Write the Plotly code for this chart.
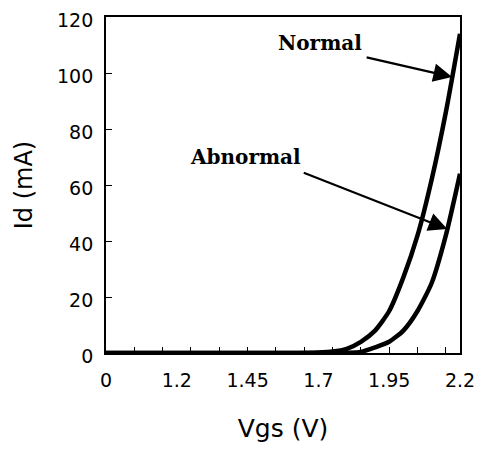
import plotly.graph_objects as go

# Data
vgs = [0.95, 1.2, 1.45, 1.6, 1.7, 1.75, 1.8, 1.85, 1.9, 1.95, 2.0, 2.05, 2.1, 2.15, 2.2]
id_normal = [0, 0, 0, 0, 0.2, 0.5, 1.5, 4, 8, 15, 27, 42, 62, 86, 114]
id_abnormal = [0, 0, 0, 0, 0, 0, 0.1, 0.4, 2, 4, 8, 15, 25, 42, 64]

x_tickvals = [0.95, 1.2, 1.45, 1.7, 1.95, 2.2]
x_ticktext = ["0", "1.2", "1.45", "1.7", "1.95", "2.2"]
y_tickvals = [0, 20, 40, 60, 80, 100, 120]

fig = go.Figure()
fig.add_trace(go.Scatter(x=vgs, y=id_normal, mode="lines", name="Normal",
                         line=dict(color="black", width=4.5, shape="spline", smoothing=0.6)))
fig.add_trace(go.Scatter(x=vgs, y=id_abnormal, mode="lines", name="Abnormal",
                         line=dict(color="black", width=4.5, shape="spline", smoothing=0.6)))
# invisible trace to carry the tick-mark axis
fig.add_trace(go.Scatter(x=[vgs[0]], y=[0], xaxis="x2", mode="markers",
                         marker=dict(opacity=0), showlegend=False, hoverinfo="skip"))

tick_font = dict(family="DejaVu Sans", size=19, color="black")

fig.update_layout(
    width=476, height=444,
    margin=dict(l=98, r=24, t=9, b=99, autoexpand=False),
    paper_bgcolor="white", plot_bgcolor="white",
    showlegend=False,
    xaxis=dict(range=[0.95, 2.2], tickmode="array", tickvals=x_tickvals, ticktext=x_ticktext,
               ticks="", showgrid=False, zeroline=False, automargin=False,
               showline=True, linecolor="black", linewidth=1.8, mirror=True,
               tickfont=tick_font, ticklabelstandoff=9, ticklabeloverflow="allow",
               title=dict(text="Vgs (V)", font=dict(family="DejaVu Sans", size=25, color="black"),
                          standoff=30)),
    xaxis2=dict(range=[0.95, 2.2], overlaying="x", anchor="y", side="bottom",
                tickmode="linear", tick0=1.05, dtick=0.1, ticks="inside", ticklen=6,
                tickwidth=1.3, tickcolor="black", showticklabels=False,
                showgrid=False, zeroline=False, showline=False),
    yaxis=dict(range=[0, 120], tickmode="array", tickvals=y_tickvals,
               ticks="inside", ticklen=6, tickwidth=1.3, tickcolor="black",
               showgrid=False, zeroline=False, automargin=False,
               showline=True, linecolor="black", linewidth=1.8, mirror=True,
               tickfont=tick_font, ticklabelstandoff=7, ticklabeloverflow="allow",
               ticklabelshift=3,
               title=dict(text="Id (mA)", font=dict(family="DejaVu Sans", size=24, color="black"),
                          standoff=18)),
)

label_font = dict(family="DejaVu Serif", size=20, color="black", weight="bold")
fig.add_annotation(x=1.706, y=110.7, xref="x", yref="y", text="<b>Normal</b>",
                   showarrow=False, font=label_font)
fig.add_annotation(x=1.441, y=70, xref="x", yref="y", text="<b>Abnormal</b>",
                   showarrow=False, font=label_font)
# arrows
fig.add_annotation(x=2.172, y=98.6, ax=1.865, ay=105.7, xref="x", yref="y",
                   axref="x", ayref="y", text="", showarrow=True,
                   arrowhead=2, arrowsize=1.7, arrowwidth=2.2, arrowcolor="black")
fig.add_annotation(x=2.155, y=44.3, ax=1.643, ay=64.6, xref="x", yref="y",
                   axref="x", ayref="y", text="", showarrow=True,
                   arrowhead=2, arrowsize=1.7, arrowwidth=2.2, arrowcolor="black")

fig.write_html("out.html")
